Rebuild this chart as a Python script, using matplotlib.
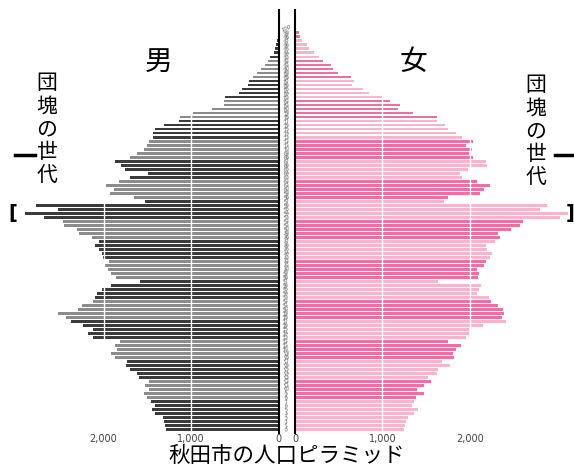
import matplotlib
matplotlib.use('Agg')
import matplotlib.pyplot as plt
import matplotlib.transforms as mtransforms
from matplotlib.lines import Line2D
import numpy as np

plt.rcParams['font.family'] = ['Noto Sans CJK JP', 'DejaVu Sans']

# age 0 -> 100
ages = list(range(101))
male = [1283, 1292, 1304, 1325, 1417, 1450, 1413, 1458, 1500, 1542,
        1475, 1529, 1479, 1596, 1613, 1700, 1738, 1729, 1867, 1917,
        1842, 1867, 1808, 2125, 2175, 2117, 2229, 2375, 2425, 2521,
        2292, 2250, 2125, 2092, 2071, 2013, 1917, 1583, 1858, 1917,
        1946, 1992, 1938, 2008, 2013, 2050, 2092, 2054, 2133, 2279,
        2304, 2450, 2467, 2679, 2896, 2521, 2771, 1529, 1646, 1925,
        1883, 1967, 1825, 1700, 1488, 1750, 1800, 1867, 1700, 1617,
        1542, 1508, 1479, 1438, 1438, 1417, 1313, 1138, 1125, 979,
        758, 625, 625, 617, 450, 415, 350, 340, 290, 250,
        200, 150, 115, 95, 55, 35, 25, 15, 10, 4, 2]
female = [1250, 1258, 1271, 1297, 1364, 1411, 1335, 1360, 1386, 1475,
          1394, 1479, 1555, 1521, 1619, 1631, 1771, 1682, 1814, 1809,
          1839, 1903, 1754, 1949, 1987, 1987, 2148, 2415, 2369, 2394,
          2373, 2318, 2242, 2212, 2076, 2106, 2127, 1631, 2097, 2106,
          2085, 2157, 2178, 2225, 2254, 2191, 2178, 2288, 2347, 2318,
          2466, 2572, 2602, 3025, 3123, 2805, 2881, 1703, 1746, 2114,
          2161, 2233, 2085, 1907, 1886, 1979, 2199, 2178, 2034, 1987,
          2021, 1958, 2034, 1907, 1843, 1754, 1712, 1619, 1619, 1352,
          1182, 1203, 1085, 992, 847, 780, 653, 678, 636, 496,
          432, 411, 318, 275, 212, 157, 136, 85, 59, 42, 17]
ticks = [0, 1000, 2000]
tick_labels = ['0', '1,000', '2,000']

M_DARK, M_LIGHT = '#3b3b3b', '#8c8c8c'
F_DARK, F_LIGHT = '#ee70a0', '#f7b5cc'

W, H = 574, 466
fig = plt.figure(figsize=(W / 100, H / 100), dpi=100)
fig.patch.set_facecolor('white')

ax_l = fig.add_axes([0, 1 - 433 / H, 278.5 / W, 423 / H])
ax_r = fig.add_axes([295 / W, 1 - 433 / H, 279 / W, 423 / H])

# 5-year bands alternate shade; the youngest (0-2) share the 3-7 band shade
dark = [a < 3 or ((a + 2) // 5) % 2 == 1 for a in ages]
m_cols = [M_DARK if d else M_LIGHT for d in dark]
f_cols = [F_LIGHT if d else F_DARK for d in dark]

ax_l.barh(ages, male, height=0.7, color=m_cols, linewidth=0)
ax_r.barh(ages, female, height=0.7, color=f_cols, linewidth=0)

ax_l.set_xlim(3183, 0)
ax_r.set_xlim(0, 3189)
for ax in (ax_l, ax_r):
    ax.set_ylim(-0.8, 104.7)
    ax.set_yticks([])
    ax.set_xticks(ticks)
    ax.set_xticklabels(tick_labels)
    ax.tick_params(axis='x', length=0, labelsize=7, colors='#444', pad=1)
    for s in ax.spines.values():
        s.set_visible(False)
    for t in ticks[1:]:
        ax.axvline(t, color='white', lw=1, zorder=3)
    ax.patch.set_alpha(0)
for lab in ax_l.get_xticklabels() + ax_r.get_xticklabels():
    lab.set_family('DejaVu Sans')
ax_l.spines['right'].set_visible(True)
ax_l.spines['right'].set_linewidth(1.5)
ax_r.spines['left'].set_visible(True)
ax_r.spines['left'].set_linewidth(1.5)

# age labels in the centre gap
trans = mtransforms.blended_transform_factory(ax_r.transAxes, ax_r.transData)
for a in ages:
    ax_r.text(-0.029, a, str(a), transform=trans, fontsize=3.8, color='#555',
              style='italic', rotation=25, ha='center', va='center',
              family='DejaVu Sans')

fig.text(159 / W, 1 - 62 / H, '男', fontsize=20, ha='center', va='center')
fig.text(413 / W, 1 - 62 / H, '女', fontsize=20, ha='center', va='center')

gen = '団\n塊\nの\n世\n代'
fig.text(47 / W, 1 - 129 / H, gen, fontsize=15, ha='center', va='center',
         linespacing=1.05)
fig.text(536 / W, 1 - 131 / H, gen, fontsize=15, ha='center', va='center',
         linespacing=1.05)
fig.add_artist(Line2D([15 / W, 35 / W], [1 - 155 / H] * 2, color='black', lw=2.5))
fig.add_artist(Line2D([555 / W, 573 / W], [1 - 155 / H] * 2, color='black', lw=2.5))
fig.text(13 / W, 1 - 213 / H, '[', fontsize=14, fontweight='bold',
         ha='center', va='center', family='DejaVu Sans')
fig.text(570 / W, 1 - 213 / H, ']', fontsize=14, fontweight='bold',
         ha='center', va='center', family='DejaVu Sans')

fig.text(287 / W, 1 - 456 / H, '秋田市の人口ピラミッド', fontsize=15.5,
         ha='center', va='center')

plt.savefig('out.png', dpi=100, facecolor='white')
plt.close()
